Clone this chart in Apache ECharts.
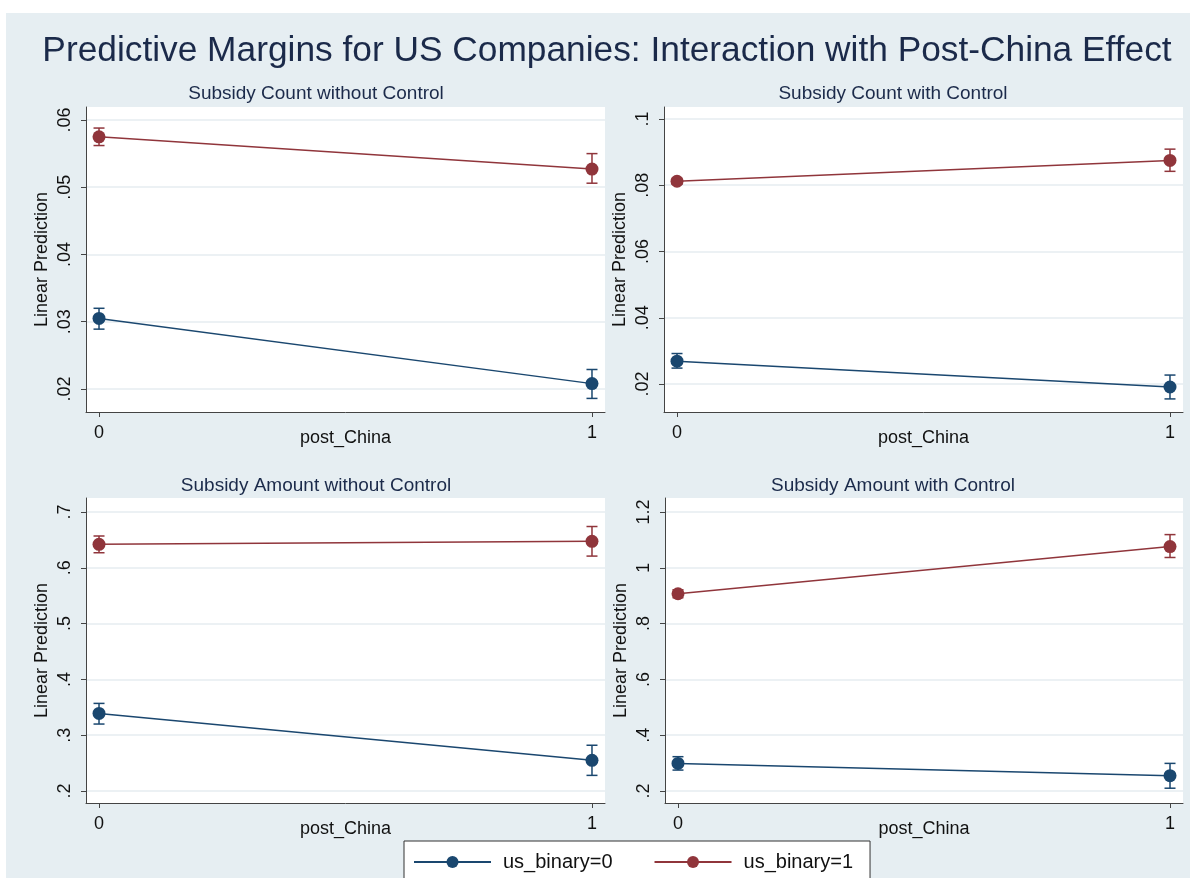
<!DOCTYPE html>
<html>
<head>
<meta charset="utf-8">
<title>Predictive Margins for US Companies</title>
<script src="https://cdn.jsdelivr.net/npm/echarts@6/dist/echarts.min.js"></script>
<style>
  html, body { margin: 0; padding: 0; background: #fff; }
  #chart { width: 1190px; height: 878px; }
</style>
</head>
<body>
<div id="chart"></div>
<script>
// ---- data ----
const postChina = [0, 1];
const panelTitles = [
  'Subsidy Count without Control',
  'Subsidy Count with Control',
  'Subsidy Amount without Control',
  'Subsidy Amount with Control'
];
const groupNames = ['us_binary=0', 'us_binary=1'];

// predictive margins per panel (post_China = 0, 1)
const us0Est = [[0.0305, 0.0208], [0.0269, 0.0191], [0.339, 0.255], [0.299, 0.255]];
const us0Lo  = [[0.0289, 0.0186], [0.0248, 0.0155], [0.320, 0.228], [0.275, 0.210]];
const us0Hi  = [[0.0320, 0.0229], [0.0292, 0.0227], [0.357, 0.282], [0.323, 0.299]];
const us1Est = [[0.0575, 0.0527], [0.0812, 0.0875], [0.642, 0.6475], [0.907, 1.076]];
const us1Lo  = [[0.0562, 0.0506], [0.0803, 0.0842], [0.627, 0.621], [0.893, 1.037]];
const us1Hi  = [[0.0588, 0.0550], [0.0821, 0.0909], [0.657, 0.674], [0.921, 1.119]];

// y-axis tick values per panel
const yTicks = [
  [0.02, 0.03, 0.04, 0.05, 0.06],
  [0.02, 0.04, 0.06, 0.08, 0.1],
  [0.2, 0.3, 0.4, 0.5, 0.6, 0.7],
  [0.2, 0.4, 0.6, 0.8, 1, 1.2]
];

// ---- layout & style ----
const FONT = '"Liberation Sans", Arial, Helvetica, sans-serif';
const NAVY = '#1a476f';
const MAROON = '#90353b';
const TITLE_COLOR = '#1b2a4a';
const AXIS_COLOR = '#444';
const REGION_BG = '#e6eef2';

const grids = [
  { left: 86,  top: 107, width: 519, height: 305 },
  { left: 664, top: 107, width: 519, height: 305 },
  { left: 86,  top: 498, width: 519, height: 305 },
  { left: 665, top: 498, width: 518, height: 305 }
];
const yExtent = [
  [0.01658, 0.06193],
  [0.01155, 0.10362],
  [0.1785, 0.7251],
  [0.157, 1.2502]
];
const subtitleCenters = [[316, 84], [893, 84], [316, 476], [893, 476]];

const fmtTick = v => String(+v.toFixed(4)).replace(/^0\./, '.');

function errorBarRenderer(color) {
  return function (params, api) {
    const x = api.value(0);
    const lo = api.coord([x, api.value(1)]);
    const hi = api.coord([x, api.value(2)]);
    const w = 5.5;
    const style = { stroke: color, lineWidth: 1.5 };
    return {
      type: 'group',
      children: [
        { type: 'line', shape: { x1: lo[0], y1: lo[1], x2: hi[0], y2: hi[1] }, style },
        { type: 'line', shape: { x1: lo[0] - w, y1: lo[1], x2: lo[0] + w, y2: lo[1] }, style },
        { type: 'line', shape: { x1: hi[0] - w, y1: hi[1], x2: hi[0] + w, y2: hi[1] }, style }
      ]
    };
  };
}

const xAxes = [], yAxes = [], series = [];
const titles = [{
  text: 'Predictive Margins for US Companies: Interaction with Post-China Effect',
  left: 607, top: 34, textAlign: 'center', padding: 0,
  textStyle: { fontFamily: FONT, fontSize: 35.3, fontWeight: 'normal', color: TITLE_COLOR }
}];

panelTitles.forEach((name, p) => {
  titles.push({
    text: name, left: subtitleCenters[p][0], top: subtitleCenters[p][1],
    textAlign: 'center', padding: 0,
    textStyle: { fontFamily: FONT, fontSize: 19, fontWeight: 'normal', color: TITLE_COLOR }
  });

  xAxes.push({
    gridIndex: p, type: 'value', min: -0.0264, max: 1.0264,
    axisLine: { show: true, onZero: false, lineStyle: { color: AXIS_COLOR, width: 1 } },
    axisTick: { show: true, customValues: postChina, length: 5, lineStyle: { color: AXIS_COLOR } },
    axisLabel: { customValues: postChina, margin: 12, fontFamily: FONT, fontSize: 18, color: '#111' },
    splitLine: { show: false },
    name: 'post_China', nameLocation: 'middle', nameGap: 17, nameMoveOverlap: false,
    nameTextStyle: { fontFamily: FONT, fontSize: 18, color: '#111' }
  });

  yAxes.push({
    gridIndex: p, type: 'value', min: yExtent[p][0], max: yExtent[p][1],
    axisLine: { show: true, onZero: false, lineStyle: { color: AXIS_COLOR, width: 1 } },
    axisTick: { show: true, customValues: yTicks[p], length: 5, lineStyle: { color: AXIS_COLOR } },
    axisLabel: {
      customValues: yTicks[p], rotate: 90, margin: 12, formatter: fmtTick,
      fontFamily: FONT, fontSize: 18, color: '#111'
    },
    splitLine: { show: true, lineStyle: { color: '#e6edf1', width: 1.5 } },
    name: 'Linear Prediction', nameLocation: 'middle', nameGap: 35, nameRotate: 90,
    nameMoveOverlap: false,
    nameTextStyle: { fontFamily: FONT, fontSize: 18, color: '#111' }
  });

  const groups = [
    { est: us0Est[p], lo: us0Lo[p], hi: us0Hi[p], color: NAVY },
    { est: us1Est[p], lo: us1Lo[p], hi: us1Hi[p], color: MAROON }
  ];
  groups.forEach((g, k) => {
    series.push({
      type: 'custom', xAxisIndex: p, yAxisIndex: p, z: 2, silent: true,
      renderItem: errorBarRenderer(g.color),
      data: postChina.map((x, i) => [x, g.lo[i], g.hi[i]])
    });
    series.push({
      type: 'line', name: groupNames[k], xAxisIndex: p, yAxisIndex: p, z: 3,
      data: postChina.map((x, i) => [x, g.est[i]]),
      symbol: 'circle', symbolSize: 13, showSymbol: true,
      lineStyle: { color: g.color, width: 1.5 },
      itemStyle: { color: g.color },
      animation: false
    });
  });
});

const chart = echarts.init(document.getElementById('chart'), null, { renderer: 'canvas' });
chart.setOption({
  backgroundColor: '#fff',
  animation: false,
  graphic: [{
    type: 'rect', z: -100, silent: true,
    shape: { x: 6, y: 13, width: 1184, height: 865 },
    style: { fill: REGION_BG }
  }],
  title: titles,
  grid: grids.map(g => Object.assign({
    show: true, backgroundColor: '#fff', borderWidth: 0, containLabel: false, outerBoundsMode: 'none'
  }, g)),
  xAxis: xAxes,
  yAxis: yAxes,
  legend: {
    data: groupNames, left: 404, top: 841,
    itemWidth: 77, itemHeight: 15, itemGap: 41,
    padding: [11, 17, 14, 9],
    backgroundColor: '#fff', borderColor: '#333', borderWidth: 1, borderRadius: 0,
    selectedMode: false,
    textStyle: { fontFamily: FONT, fontSize: 20, color: '#111', padding: [0, 0, 0, 7] }
  },
  series: series
});
</script>
</body>
</html>
